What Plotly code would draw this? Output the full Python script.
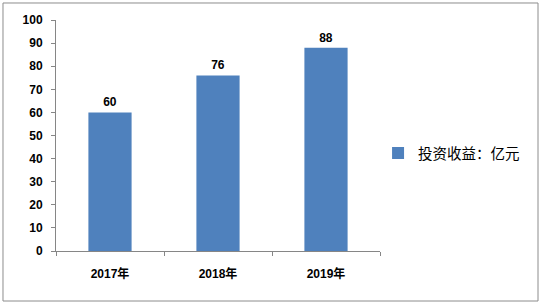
import plotly.graph_objects as go

categories = ["2017年", "2018年", "2019年"]
values = [60, 76, 88]
series_name = "投资收益：亿元"
y_ticks = [0, 10, 20, 30, 40, 50, 60, 70, 80, 90, 100]

FONT = "Arial, 'Liberation Sans', 'Noto Sans CJK SC', sans-serif"
BAR = "#4F81BD"

fig = go.Figure()
fig.add_trace(go.Bar(
    x=categories, y=values, name=series_name,
    marker=dict(color=BAR, line=dict(width=0)),
    text=[f"<b>{v}</b>" for v in values], textposition="outside",
    textfont=dict(family=FONT, size=12, color="#000000"),
    cliponaxis=False,
))

fig.update_layout(
    width=545, height=305,
    margin=dict(l=56, r=165, t=20, b=54),
    paper_bgcolor="white", plot_bgcolor="white",
    bargap=0.6,
    showlegend=True,
    legend=dict(x=0.994, y=0.424, xanchor="left", yanchor="middle",
                font=dict(family=FONT, size=14.5, color="#000000"),
                itemwidth=30, bgcolor="rgba(0,0,0,0)"),
    font=dict(family=FONT, color="#000000"),
)
fig.update_xaxes(
    showline=True, linecolor="#868686", linewidth=1,
    ticks="outside", ticklen=4, tickcolor="#868686",
    tickson="boundaries",
    tickfont=dict(family=FONT, size=12, color="#000000", weight="bold"),
    ticklabelstandoff=12,
    showgrid=False, zeroline=False,
)
fig.update_yaxes(
    range=[0, 100], tickvals=y_ticks,
    showline=True, linecolor="#868686", linewidth=1,
    ticks="outside", ticklen=4, tickcolor="#868686",
    tickfont=dict(family=FONT, size=12, color="#000000", weight="bold"),
    ticklabelstandoff=6,
    showgrid=False, zeroline=False,
)
fig.add_shape(type="rect", xref="paper", yref="paper",
              x0=-0.1636, x1=1.4877, y0=-0.2165, y1=1.0736,
              line=dict(color="#8c8c8c", width=1), fillcolor="rgba(0,0,0,0)",
              layer="below")

fig.write_html("out.html")
